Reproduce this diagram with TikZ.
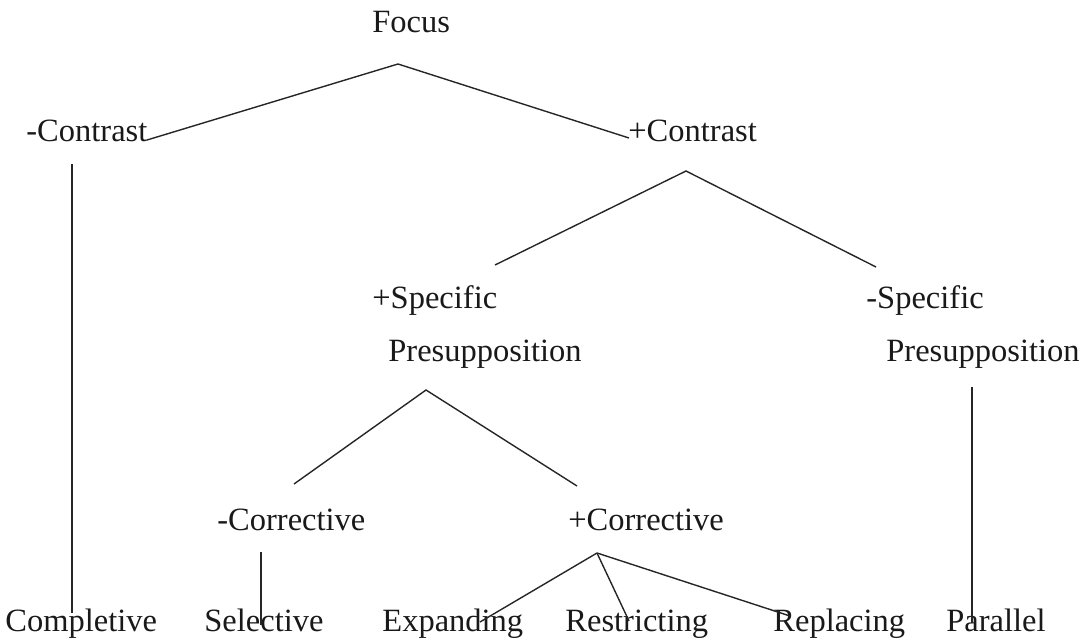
\documentclass[tikz,border=0pt]{standalone}
\usepackage{fontspec}
\setmainfont{Liberation Serif}
\begin{document}
\begin{tikzpicture}[x=0.5pt,y=-0.5pt,
  lbl/.style={anchor=base west,inner sep=0pt,font=\fontsize{16.25}{19}\selectfont,text=black!90},
  branch/.style={draw=black!85,line width=0.7pt}]
\useasboundingbox (0,0) rectangle (1086,642);

% labels
\node[lbl] (focus)     at (372,33)  {Focus};
\node[lbl] (mcontrast) at (26,141)  {-Contrast};
\node[lbl] (pcontrast) at (628,141) {+Contrast};
\node[lbl] (pspec)     at (372,308) {+Specific};
\node[lbl] (pspecb)    at (388,361) {Presupposition};
\node[lbl] (mspec)     at (866,308) {-Specific};
\node[lbl] (mspecb)    at (886,361) {Presupposition};
\node[lbl] (mcorr)     at (217,530) {-Corrective};
\node[lbl] (pcorr)     at (568,530) {+Corrective};
\node[lbl] (complet)   at (5,631)   {Completive};
\node[lbl] (select)    at (204,631) {Selective};
\node[lbl] (expand)    at (382,631) {Expanding};
\node[lbl] (restrict)  at (565,631) {Restricting};
\node[lbl] (replace)   at (773,631) {Replacing};
\node[lbl] (parallel)  at (946,631) {Parallel};

% branch points and line ends
\coordinate (f0)  at (398,64);
\coordinate (f0l) at (147,140);
\coordinate (f0r) at (629,138);
\coordinate (v0t) at (72,164);
\coordinate (v0b) at (72,613);
\coordinate (f1)  at (686,171);
\coordinate (f1l) at (495,265);
\coordinate (f1r) at (876,267);
\coordinate (f2)  at (426,390);
\coordinate (f2l) at (294,484);
\coordinate (f2r) at (577,486);
\coordinate (v1t) at (972,387);
\coordinate (v1b) at (972,623);
\coordinate (v2t) at (261,552);
\coordinate (v2b) at (261,625);
\coordinate (f3)  at (597,553);
\coordinate (f3a) at (480,622);
\coordinate (f3b) at (629,621);
\coordinate (f3c) at (790,616);

% tree edges
\draw[branch] (f0l) -- (f0) -- (f0r);
\draw[branch] (v0t) -- (v0b);
\draw[branch] (f1l) -- (f1) -- (f1r);
\draw[branch] (f2l) -- (f2) -- (f2r);
\draw[branch] (v1t) -- (v1b);
\draw[branch] (v2t) -- (v2b);
\draw[branch] (f3) -- (f3a);
\draw[branch] (f3) -- (f3b);
\draw[branch] (f3) -- (f3c);
\end{tikzpicture}
\end{document}
